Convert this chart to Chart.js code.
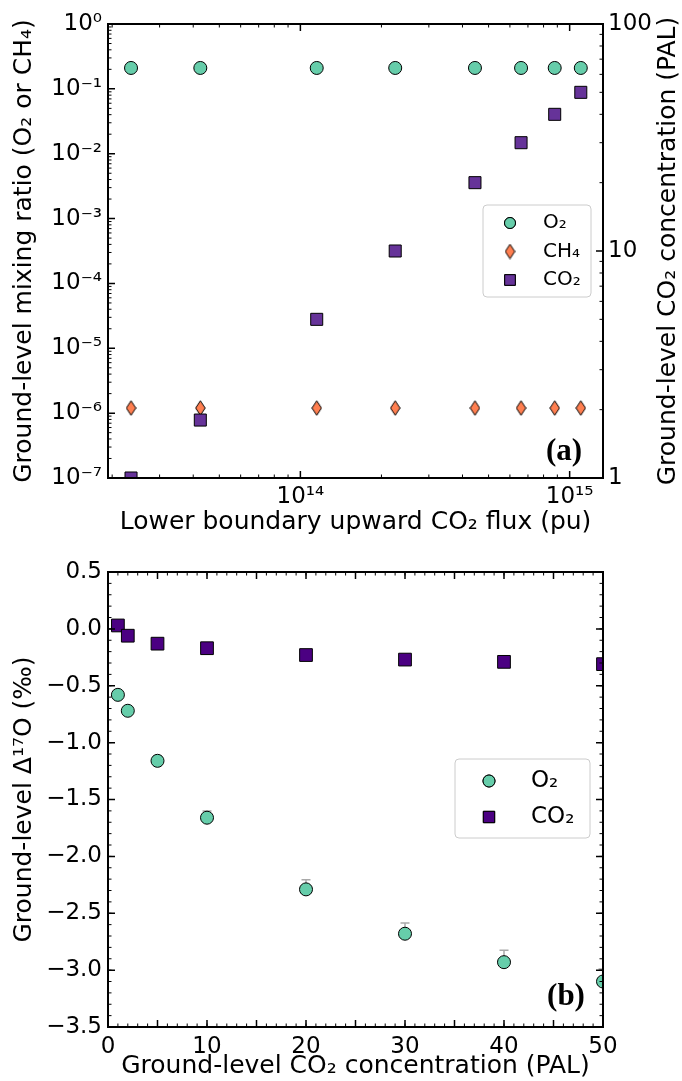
<!DOCTYPE html>
<html>
<head>
<meta charset="utf-8">
<script src="https://cdn.jsdelivr.net/npm/chart.js@4.4.1/dist/chart.umd.min.js"></script>
<style>
  html, body { margin: 0; padding: 0; background: #fff; }
  #wrap { position: relative; width: 682px; height: 1081px; }
  canvas { position: absolute; left: 0; }
  #fluxChart { top: 0; }
  #d17Chart { top: 540px; }
</style>
</head>
<body>
<div id="wrap">
  <canvas id="fluxChart" width="682" height="540"></canvas>
  <canvas id="d17Chart" width="682" height="541"></canvas>
</div>
<script>
// ---------- panel (a): ground-level mixing ratios vs. CO2 flux ----------
const fluxPU    = [2.35e13, 4.25e13, 1.15e14, 2.25e14, 4.45e14, 6.6e14, 8.8e14, 1.1e15];
const o2Mixing  = [0.21, 0.21, 0.21, 0.21, 0.21, 0.21, 0.21, 0.21];
const ch4Mixing = [1.2e-6, 1.2e-6, 1.2e-6, 1.2e-6, 1.2e-6, 1.2e-6, 1.2e-6, 1.2e-6];
const co2PAL    = [1.0, 1.8, 5, 10, 20, 30, 40, 50];

const fluxTicks      = [1e14, 1e15];
const fluxTickLabels = ['10\u00b9\u2074', '10\u00b9\u2075'];
const mixTicks       = [1e-7, 1e-6, 1e-5, 1e-4, 1e-3, 1e-2, 1e-1, 1];
const mixTickLabels  = ['10\u207b\u2077', '10\u207b\u2076', '10\u207b\u2075', '10\u207b\u2074',
                        '10\u207b\u00b3', '10\u207b\u00b2', '10\u207b\u00b9', '10\u2070'];
const palTicks       = [1, 10, 100];
const palTickLabels  = ['1', '10', '100'];

// ---------- panel (b): ground-level Δ17O vs. CO2 concentration ----------
const co2Conc    = [1, 2, 5, 10, 20, 30, 40, 50];
const o2D17O     = [-0.58, -0.72, -1.16, -1.66, -2.29, -2.68, -2.93, -3.10];
const o2D17OErr  = [0.02, 0.03, 0.04, 0.06, 0.085, 0.095, 0.105, 0.11];
const co2D17O    = [0.03, -0.06, -0.13, -0.17, -0.23, -0.27, -0.29, -0.31];

const concTicks      = [0, 10, 20, 30, 40, 50];
const concTickLabels = ['0', '10', '20', '30', '40', '50'];
const d17Ticks       = [0.5, 0, -0.5, -1, -1.5, -2, -2.5, -3, -3.5];
const d17TickLabels  = ['0.5', '0.0', '\u22120.5', '\u22121.0', '\u22121.5', '\u22122.0',
                        '\u22122.5', '\u22123.0', '\u22123.5'];

// ---------- styling ----------
const FAMILY = "'DejaVu Sans', sans-serif";
const O2_COLOR  = '#66cdaa';
const CH4_COLOR = '#ff7f50';
const CO2_COLOR_A = '#663399';
const CO2_COLOR_B = '#4b0082';

function logMinors(lo, hi) {
  const out = [];
  for (let e = Math.floor(Math.log10(lo)); e <= Math.ceil(Math.log10(hi)); e++) {
    for (let k = 2; k <= 9; k++) {
      const v = k * Math.pow(10, e);
      if (v >= lo && v <= hi) out.push(v);
    }
  }
  return out;
}
function stepValues(lo, hi, step) {
  const out = [];
  const n = Math.round((hi - lo) / step);
  for (let i = 0; i <= n; i++) out.push(+(lo + i * step).toFixed(6));
  return out;
}

function thinDiamond(w, h, fill) {
  const c = document.createElement('canvas');
  c.width = w; c.height = h;
  const g = c.getContext('2d');
  g.beginPath();
  g.moveTo(w / 2, 0.75);
  g.lineTo(w - 0.75, h / 2);
  g.lineTo(w / 2, h - 0.75);
  g.lineTo(0.75, h / 2);
  g.closePath();
  g.fillStyle = fill;
  g.fill();
  g.lineWidth = 1;
  g.strokeStyle = '#000';
  g.stroke();
  return c;
}

// inward tick marks on every side plus the axes frame
const frameTicks = {
  id: 'frameTicks',
  afterDatasetsDraw(chart, args, opts) {
    const { ctx, chartArea: a } = chart;
    ctx.save();
    ctx.strokeStyle = '#000';
    for (const set of opts.sets) {
      const s = chart.scales[set.scale];
      const groups = [[set.minor || [], 3.5, 1], [set.major || [], 7, 1.5]];
      for (const [vals, len, lw] of groups) {
        ctx.lineWidth = lw;
        ctx.beginPath();
        for (const v of vals) {
          const p = s.getPixelForValue(v);
          for (const side of set.sides) {
            if (side === 'left')   { ctx.moveTo(a.left, p);   ctx.lineTo(a.left + len, p); }
            if (side === 'right')  { ctx.moveTo(a.right, p);  ctx.lineTo(a.right - len, p); }
            if (side === 'bottom') { ctx.moveTo(p, a.bottom); ctx.lineTo(p, a.bottom - len); }
            if (side === 'top')    { ctx.moveTo(p, a.top);    ctx.lineTo(p, a.top + len); }
          }
        }
        ctx.stroke();
      }
    }
    ctx.lineWidth = 2;
    ctx.strokeRect(a.left, a.top, a.right - a.left, a.bottom - a.top);
    ctx.restore();
  }
};

// upper error bars for O2 in panel (b)
const upperErrors = {
  id: 'upperErrors',
  beforeDatasetsDraw(chart, args, opts) {
    if (!opts.values) return;
    const { ctx, chartArea: a } = chart;
    const xs = chart.scales.x, ys = chart.scales.y;
    ctx.save();
    ctx.beginPath();
    ctx.rect(a.left, a.top, a.right - a.left, a.bottom - a.top);
    ctx.clip();
    ctx.strokeStyle = opts.color;
    ctx.lineWidth = 1.5;
    ctx.beginPath();
    opts.x.forEach((xv, i) => {
      const px = xs.getPixelForValue(xv);
      const y0 = ys.getPixelForValue(opts.values[i]);
      const y1 = ys.getPixelForValue(opts.values[i] + opts.errors[i]);
      ctx.moveTo(px, y0); ctx.lineTo(px, y1);
      ctx.moveTo(px - 4.5, y1); ctx.lineTo(px + 4.5, y1);
    });
    ctx.stroke();
    ctx.restore();
  }
};

// framed legend placed inside the plotting area
const boxLegend = {
  id: 'boxLegend',
  afterDraw(chart, args, o) {
    const { ctx } = chart;
    ctx.save();
    ctx.beginPath();
    ctx.roundRect(o.x, o.y, o.w, o.h, 4);
    ctx.fillStyle = 'rgba(255,255,255,0.85)';
    ctx.fill();
    ctx.strokeStyle = '#cccccc';
    ctx.lineWidth = 1;
    ctx.stroke();
    ctx.font = o.fontSize + 'px ' + FAMILY;
    ctx.textBaseline = 'middle';
    ctx.textAlign = 'left';
    o.rows.forEach((row, k) => {
      const ds = chart.data.datasets[row.index];
      const my = o.y + o.firstRow + k * o.rowGap;
      ctx.fillStyle = ds.pointBackgroundColor;
      ctx.strokeStyle = ds.pointBorderColor;
      ctx.lineWidth = 1;
      Chart.helpers.drawPoint(ctx, { pointStyle: ds.pointStyle, radius: row.radius, rotation: 0, borderWidth: 1 }, o.markerX, my);
      if (typeof ds.pointStyle === 'string') { ctx.fill(); ctx.stroke(); }
      ctx.fillStyle = '#000';
      ctx.fillText(ds.label, o.textX, my);
    });
    ctx.restore();
  }
};

// bold panel tag and optional right-hand axis title
const panelText = {
  id: 'panelText',
  afterDraw(chart, args, o) {
    const { ctx } = chart;
    ctx.save();
    ctx.fillStyle = '#000';
    ctx.font = 'bold 31px "Liberation Serif", "DejaVu Serif", serif';
    ctx.textAlign = 'center';
    ctx.textBaseline = 'middle';
    ctx.fillText(o.tag, o.tagX, o.tagY);
    if (o.rightTitle) {
      ctx.translate(o.rightTitleX, (chart.chartArea.top + chart.chartArea.bottom) / 2);
      ctx.rotate(-Math.PI / 2);
      ctx.font = o.fontSize + 'px ' + FAMILY;
      ctx.fillText(o.rightTitle, 0, 0);
    }
    ctx.restore();
  }
};

function axisTicks(values, labels, pad) {
  return {
    autoSkip: false, maxRotation: 0, minRotation: 0, padding: pad,
    color: '#000', font: { family: FAMILY, size: 23 },
    callback: (v, i) => labels[i]
  };
}
function fixTicks(values) {
  return (scale) => { scale.ticks = values.map(v => ({ value: v })); };
}
const titleFont = { family: FAMILY, size: 25 };

// ---------- chart (a) ----------
const diamondImg = thinDiamond(11, 16, CH4_COLOR);

new Chart(document.getElementById('fluxChart'), {
  type: 'scatter',
  data: {
    datasets: [
      { label: 'O\u2082', data: fluxPU.map((x, i) => ({ x, y: o2Mixing[i] })), yAxisID: 'y',
        pointStyle: 'circle', pointRadius: 6.5, pointBackgroundColor: O2_COLOR,
        pointBorderColor: '#000', pointBorderWidth: 1, order: 2, clip: 0 },
      { label: 'CH\u2084', data: fluxPU.map((x, i) => ({ x, y: ch4Mixing[i] })), yAxisID: 'y',
        pointStyle: diamondImg, pointRadius: 8, pointBackgroundColor: CH4_COLOR,
        pointBorderColor: '#000', pointBorderWidth: 1, order: 1, clip: 0 },
      { label: 'CO\u2082', data: fluxPU.map((x, i) => ({ x, y: co2PAL[i] })), yAxisID: 'y2',
        pointStyle: 'rect', pointRadius: 8.5, pointBackgroundColor: CO2_COLOR_A,
        pointBorderColor: '#000', pointBorderWidth: 1, order: 0, clip: 0 }
    ]
  },
  options: {
    responsive: false, animation: false, events: [],
    layout: { padding: { top: 24, left: 0, right: 0, bottom: 0 } },
    plugins: {
      legend: { display: false }, tooltip: { enabled: false },
      frameTicks: { sets: [
        { scale: 'x', sides: ['bottom', 'top'], major: fluxTicks, minor: logMinors(1.93e13, 1.33e15) },
        { scale: 'y', sides: ['left'], major: mixTicks, minor: logMinors(1e-7, 1) },
        { scale: 'y2', sides: ['right'], major: palTicks, minor: logMinors(1, 100) }
      ] },
      boxLegend: { x: 483, y: 205, w: 108, h: 92, firstRow: 18, rowGap: 28.5, markerX: 510, textX: 543, fontSize: 20,
        rows: [ { index: 0, radius: 5.5 }, { index: 1, radius: 7 }, { index: 2, radius: 7.5 } ] },
      panelText: { tag: '(a)', tagX: 564, tagY: 452, rightTitle: 'Ground-level CO\u2082 concentration (PAL)', rightTitleX: 668, fontSize: 25 }
    },
    scales: {
      x: {
        type: 'logarithmic', position: 'bottom', min: 1.93e13, max: 1.33e15,
        grid: { display: false, drawTicks: false }, border: { display: false },
        afterBuildTicks: fixTicks(fluxTicks),
        ticks: axisTicks(fluxTicks, fluxTickLabels, 5),
        title: { display: true, text: 'Lower boundary upward CO\u2082 flux (pu)', color: '#000', font: titleFont, padding: { top: 0, bottom: 3 } },
        afterFit: (s) => { s.height = 62; }
      },
      y: {
        type: 'logarithmic', position: 'left', min: 1e-7, max: 1,
        grid: { display: false, drawTicks: false }, border: { display: false },
        afterBuildTicks: fixTicks(mixTicks),
        ticks: axisTicks(mixTicks, mixTickLabels, 6),
        title: { display: true, text: 'Ground-level mixing ratio (O\u2082 or CH\u2084)', color: '#000', font: titleFont, padding: { top: 9, bottom: 0 } },
        afterFit: (s) => { s.width = 108; }
      },
      y2: {
        type: 'logarithmic', position: 'right', min: 1, max: 100,
        grid: { display: false, drawTicks: false }, border: { display: false },
        afterBuildTicks: fixTicks(palTicks),
        ticks: axisTicks(palTicks, palTickLabels, 5),
        afterFit: (s) => { s.width = 79; }
      }
    }
  },
  plugins: [frameTicks, boxLegend, panelText]
});

// ---------- chart (b) ----------
new Chart(document.getElementById('d17Chart'), {
  type: 'scatter',
  data: {
    datasets: [
      { label: 'O\u2082', data: co2Conc.map((x, i) => ({ x, y: o2D17O[i] })),
        pointStyle: 'circle', pointRadius: 6.5, pointBackgroundColor: O2_COLOR,
        pointBorderColor: '#000', pointBorderWidth: 1, clip: 0 },
      { label: 'CO\u2082', data: co2Conc.map((x, i) => ({ x, y: co2D17O[i] })),
        pointStyle: 'rect', pointRadius: 9, pointBackgroundColor: CO2_COLOR_B,
        pointBorderColor: '#000', pointBorderWidth: 1, clip: 0 }
    ]
  },
  options: {
    responsive: false, animation: false, events: [],
    layout: { padding: { top: 32, left: 0, right: 79, bottom: 0 } },
    plugins: {
      legend: { display: false }, tooltip: { enabled: false },
      upperErrors: { x: co2Conc, values: o2D17O, errors: o2D17OErr, color: '#a9a9a9' },
      frameTicks: { sets: [
        { scale: 'x', sides: ['bottom', 'top'], major: stepValues(0, 50, 5), minor: stepValues(0, 50, 1) },
        { scale: 'y', sides: ['left', 'right'], major: d17Ticks, minor: stepValues(-3.5, 0.5, 0.1) }
      ] },
      boxLegend: { x: 455, y: 219, w: 135, h: 79, firstRow: 22, rowGap: 36, markerX: 489, textX: 531, fontSize: 23,
        rows: [ { index: 0, radius: 6 }, { index: 1, radius: 8 } ] },
      panelText: { tag: '(b)', tagX: 566, tagY: 457 }
    },
    scales: {
      x: {
        type: 'linear', position: 'bottom', min: 0, max: 50,
        grid: { display: false, drawTicks: false }, border: { display: false },
        afterBuildTicks: fixTicks(concTicks),
        ticks: axisTicks(concTicks, concTickLabels, 6),
        title: { display: true, text: 'Ground-level CO\u2082 concentration (PAL)', color: '#000', font: titleFont, padding: { top: 0, bottom: 0 } },
        afterFit: (s) => { s.height = 54; }
      },
      y: {
        type: 'linear', position: 'left', min: -3.5, max: 0.5,
        grid: { display: false, drawTicks: false }, border: { display: false },
        afterBuildTicks: fixTicks(d17Ticks),
        ticks: axisTicks(d17Ticks, d17TickLabels, 6),
        title: { display: true, text: 'Ground-level \u0394\u00b9\u2077O (\u2030)', color: '#000', font: titleFont, padding: { top: 9, bottom: 0 } },
        afterFit: (s) => { s.width = 108; }
      }
    }
  },
  plugins: [upperErrors, frameTicks, boxLegend, panelText]
});
</script>
</body>
</html>
